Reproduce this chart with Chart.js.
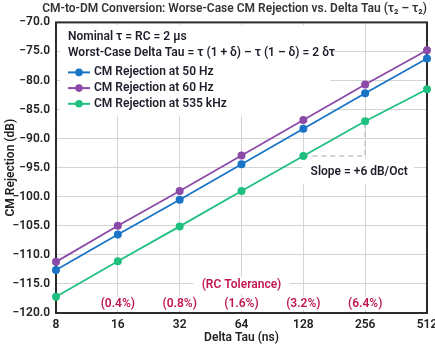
<!DOCTYPE html>
<html>
<head>
<meta charset="utf-8">
<script src="https://cdn.jsdelivr.net/npm/chart.js@4"></script>
<style>
  html, body { margin: 0; padding: 0; background: #fff; }
  #wrap { width: 435px; height: 348px; }
</style>
</head>
<body>
<div id="wrap"><canvas id="cmrChart"></canvas></div>
<script>
// Dữ liệu
const deltaTau = ['8', '16', '32', '64', '128', '256', '512'];
const rej50Hz = [-112.6, -106.5, -100.5, -94.4, -88.3, -82.2, -76.2];
const rej60Hz = [-111.2, -105.0, -99.0, -92.9, -86.8, -80.7, -74.8];
const rej535kHz = [-117.2, -111.1, -105.1, -99.0, -93.0, -87.0, -81.5];
const seriesNames = ['CM Rejection at 50 Hz', 'CM Rejection at 60 Hz', 'CM Rejection at 535 kHz'];
const seriesColors = ['#1a74c6', '#8b4aa8', '#1fbf80'];
const yMin = -120, yMax = -70, yStep = 5;
const tolCats = ['16', '32', '64', '128', '256'];
const tolLabels = ['(0.4%)', '(0.8%)', '(1.6%)', '(3.2%)', '(6.4%)'];
const noteLines = ['Nominal \u03c4 = RC = 2 \u03bcs', 'Worst-Case Delta Tau = \u03c4 (1 + \u03b4) \u2013 \u03c4 (1 \u2013 \u03b4) = 2 \u03b4\u03c4'];
const slopeFrom = '128', slopeTo = '256';
const slopeText = 'Slope = +6 dB/Oct';

const FONT = 'Roboto, "DejaVu Sans", sans-serif';
const DARK = '#1e1e2a';
const RED = '#c0174f';

// Vẽ hộp ghi chú, chú giải, đường dốc
const annotations = {
    id: 'annotations',
    beforeDatasetsDraw(chart) {
        const { ctx, chartArea: a, scales: { x, y } } = chart;
        ctx.save();
        ctx.fillStyle = '#fff';
        // hộp chú giải
        ctx.fillRect(a.left + 4, a.top + 3, 270, 91);
        // hộp slope
        const sx = x.getPixelForValue(deltaTau.indexOf(slopeTo));
        const gy = y.getPixelForValue(rej535kHz[deltaTau.indexOf(slopeFrom)]);
        ctx.fillRect(sx - 63, gy + 3, 112, 25);
        // hộp RC Tolerance
        const cx = x.getPixelForValue(deltaTau.indexOf('64'));
        ctx.fillRect(cx - 48, y.getPixelForValue(-113.8), 96, 17);
        tolCats.forEach(c => {
            const px = x.getPixelForValue(deltaTau.indexOf(c));
            ctx.fillRect(px - 20, y.getPixelForValue(-117.2), 40, 13);
        });
        // đường nét đứt của slope
        const fx = x.getPixelForValue(deltaTau.indexOf(slopeFrom));
        const ty = y.getPixelForValue(rej535kHz[deltaTau.indexOf(slopeTo)]);
        ctx.strokeStyle = '#c4c4c4';
        ctx.lineWidth = 1.5;
        ctx.setLineDash([5, 4]);
        ctx.beginPath();
        ctx.moveTo(fx, gy);
        ctx.lineTo(sx, gy);
        ctx.lineTo(sx, ty);
        ctx.stroke();
        ctx.setLineDash([]);
        // khung
        ctx.strokeStyle = '#2b2b2b';
        ctx.lineWidth = 2;
        ctx.strokeRect(a.left, a.top, a.right - a.left, a.bottom - a.top);
        ctx.restore();
    },
    afterDatasetsDraw(chart) {
        const { ctx, chartArea: a, scales: { x, y } } = chart;
        ctx.save();
        ctx.font = '600 12px ' + FONT;
        ctx.fillStyle = DARK;
        ctx.textBaseline = 'middle';
        ctx.textAlign = 'left';
        ctx.fillText(noteLines[0], a.left + 12, a.top + 15);
        ctx.fillText(noteLines[1], a.left + 12, a.top + 31);
        chart.data.datasets.forEach((ds, i) => {
            const ly = a.top + 50 + i * 15.7;
            ctx.strokeStyle = ds.borderColor;
            ctx.lineWidth = 2;
            ctx.beginPath();
            ctx.moveTo(a.left + 12, ly);
            ctx.lineTo(a.left + 34, ly);
            ctx.stroke();
            ctx.fillStyle = ds.borderColor;
            ctx.beginPath();
            ctx.arc(a.left + 23, ly, 3.8, 0, Math.PI * 2);
            ctx.fill();
            ctx.fillStyle = DARK;
            ctx.fillText(ds.label, a.left + 38, ly);
        });
        // slope
        const sx = x.getPixelForValue(deltaTau.indexOf(slopeTo));
        const gy = y.getPixelForValue(rej535kHz[deltaTau.indexOf(slopeFrom)]);
        ctx.textAlign = 'center';
        ctx.fillText(slopeText, sx - 6, gy + 16);
        // RC tolerance
        ctx.fillStyle = RED;
        ctx.fillText('(RC Tolerance)', x.getPixelForValue(deltaTau.indexOf('64')), y.getPixelForValue(-115.2));
        tolCats.forEach((c, i) => {
            ctx.fillText(tolLabels[i], x.getPixelForValue(deltaTau.indexOf(c)), y.getPixelForValue(-118.5));
        });
        ctx.restore();
    }
};

const mkSet = (label, data, color) => ({
    label: label,
    data: data,
    borderColor: color,
    backgroundColor: color,
    borderWidth: 1.8,
    pointRadius: 4,
    pointHoverRadius: 4,
    pointBorderWidth: 0,
    tension: 0,
    clip: false
});

const ctx = document.getElementById('cmrChart').getContext('2d');
new Chart(ctx, {
    type: 'line',
    data: {
        labels: deltaTau,
        datasets: [
            mkSet(seriesNames[0], rej50Hz, seriesColors[0]),
            mkSet(seriesNames[1], rej60Hz, seriesColors[1]),
            mkSet(seriesNames[2], rej535kHz, seriesColors[2])
        ]
    },
    options: {
        responsive: true,
        maintainAspectRatio: false,
        animation: false,
        devicePixelRatio: 1,
        layout: { padding: { left: 0, right: 8, top: 0, bottom: 0 } },
        plugins: {
            legend: { display: false },
            tooltip: { enabled: false },
            title: {
                display: true,
                text: 'CM-to-DM Conversion: Worse-Case CM Rejection vs. Delta Tau (\u03c4\u2082 \u2013 \u03c4\u2082)',
                align: 'end',
                color: '#333',
                font: { family: FONT, size: 12, weight: '600' },
                padding: { top: 2, bottom: 6 }
            }
        },
        scales: {
            x: {
                type: 'category',
                offset: false,
                grid: { color: '#d4d4d4', lineWidth: 1, drawTicks: false },
                border: { display: false },
                ticks: {
                    color: '#222',
                    font: { family: FONT, size: 12, weight: '600' },
                    padding: 5,
                    maxRotation: 0,
                    autoSkip: false
                },
                title: {
                    display: true,
                    text: 'Delta Tau (ns)',
                    color: '#222',
                    font: { family: FONT, size: 12, weight: '600' },
                    padding: { top: 0, bottom: 3 }
                },
                afterFit(s) { s.height = 35; s.paddingRight = 0; s.paddingLeft = 0; }
            },
            y: {
                min: yMin,
                max: yMax,
                grid: { color: '#d4d4d4', lineWidth: 1, drawTicks: false },
                border: { display: false },
                ticks: {
                    stepSize: yStep,
                    color: '#222',
                    font: { family: FONT, size: 12, weight: '600' },
                    padding: 6,
                    callback: v => v.toFixed(1).replace('-', '\u2212')
                },
                title: {
                    display: true,
                    text: 'CM Rejection (dB)',
                    color: '#222',
                    font: { family: FONT, size: 12, weight: '600' },
                    padding: { top: 4, bottom: 0 }
                },
                afterFit(s) { s.width = 56; }
            }
        }
    },
    plugins: [annotations]
});
</script>
</body>
</html>
